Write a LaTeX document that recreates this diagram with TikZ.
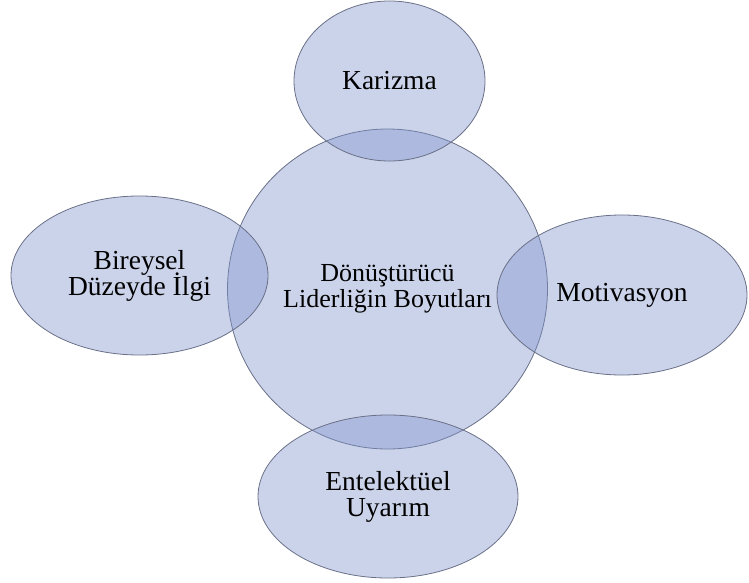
\documentclass[tikz,border=0pt]{standalone}
\usepackage{fontspec}
\setmainfont{Liberation Serif}
\usetikzlibrary{shapes.geometric}
\definecolor{boyutfill}{RGB}{126,146,203}
\definecolor{boyutline}{RGB}{105,112,135}
\newcommand\boyutfont{\fontsize{27.5}{26}\selectfont\lineskiplimit=-1000pt\relax}
\tikzset{
  boyut/.style={ellipse, draw=boyutline, line width=0.8pt, fill=boyutfill,
    fill opacity=0.4, text opacity=1, inner sep=0pt},
}
\begin{document}
\begin{tikzpicture}[x=1pt, y=-1pt, every node/.style={align=center, font=\boyutfont}]
    \useasboundingbox (0,0) rectangle (749,583);

    % Central circle
    \node[boyut, circle, minimum size=320pt, font=\fontsize{26}{26}\selectfont] (merkez) at (387.5,289) {Dönüştürücü\\ Liderliğin Boyutları};

    % Dimensions around it
    \node[boyut, minimum width=191pt, minimum height=160pt] (karizma) at (389.5,81) {Karizma};
    \node[boyut, minimum width=257pt, minimum height=159pt] (ilgi) at (139.5,275.5) {Bireysel\\ Düzeyde İlgi};
    \node[boyut, minimum width=250pt, minimum height=160pt] (motivasyon) at (622,295) {Motivasyon};
    \node[boyut, minimum width=260pt, minimum height=163pt] (uyarim) at (388,496.5) {Entelektüel\\ Uyarım};
\end{tikzpicture}
\end{document}
